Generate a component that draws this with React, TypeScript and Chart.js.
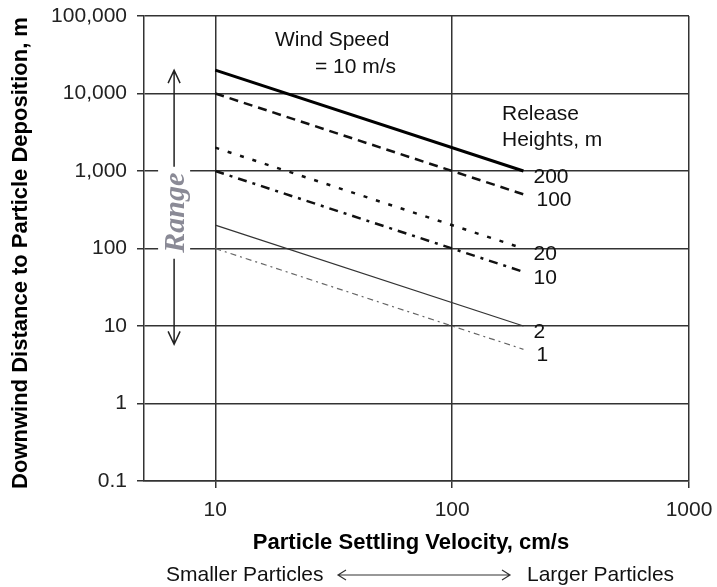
import React, { useEffect, useRef } from 'react';
import { Chart, registerables } from 'chart.js';

Chart.register(...registerables);

// ---- data ----
const releaseHeights = ['200', '100', '20', '10', '2', '1'];
const settlingVelocity = [10, 200]; // cm/s
const dist200 = [20000, 1000];
const dist100 = [10000, 500];
const dist20 = [2000, 100];
const dist10 = [1000, 50];
const dist2 = [200, 10];
const dist1 = [100, 5];
const xTickValues = [10, 100, 1000];
const yTickValues = [0.1, 1, 10, 100, 1000, 10000, 100000];
const rangeSpan = [20000, 5.8]; // range arrow top / bottom (m)

const seriesValues = [dist200, dist100, dist20, dist10, dist2, dist1];

const FONT = '"Liberation Sans", Arial, sans-serif';

const seriesStyles = [
  { color: '#000', width: 3, dash: [] as number[], nudge: 0 },
  { color: '#111', width: 2.5, dash: [9, 6], nudge: 3 },
  { color: '#111', width: 2.5, dash: [4, 9], nudge: 0 },
  { color: '#111', width: 2.5, dash: [9, 6, 3, 6], nudge: 0 },
  { color: '#333', width: 1.2, dash: [] as number[], nudge: 0 },
  { color: '#666', width: 1.2, dash: [6, 4, 2, 4], nudge: 3 },
];

const annotationPlugin = {
  id: 'annotations',
  afterDraw(chart: any) {
    const { ctx, scales } = chart;
    const xs = scales.x;
    const ys = scales.y;
    ctx.save();

    // Range arrow
    const ax = xs.getPixelForValue(6.7);
    const yTop = ys.getPixelForValue(rangeSpan[0]);
    const yBot = ys.getPixelForValue(rangeSpan[1]);
    const yMid = ys.getPixelForValue(290);
    ctx.fillStyle = '#fff';
    ctx.fillRect(ax - 16, yMid - 46, 32, 92);
    ctx.strokeStyle = '#222';
    ctx.lineWidth = 1.5;
    ctx.beginPath();
    ctx.moveTo(ax, yTop);
    ctx.lineTo(ax, yMid - 46);
    ctx.moveTo(ax, yMid + 46);
    ctx.lineTo(ax, yBot);
    ctx.moveTo(ax - 6, yTop + 13);
    ctx.lineTo(ax, yTop);
    ctx.lineTo(ax + 6, yTop + 13);
    ctx.moveTo(ax - 6, yBot - 13);
    ctx.lineTo(ax, yBot);
    ctx.lineTo(ax + 6, yBot - 13);
    ctx.stroke();
    ctx.save();
    ctx.translate(ax, yMid);
    ctx.rotate(-Math.PI / 2);
    ctx.fillStyle = '#8a8a96';
    ctx.font = 'italic bold 30px "Liberation Serif", serif';
    ctx.textAlign = 'center';
    ctx.textBaseline = 'middle';
    ctx.fillText('Range', 0, 2);
    ctx.restore();

    // Series labels at the end of each line
    ctx.fillStyle = '#111';
    ctx.font = `21px ${FONT}`;
    ctx.textAlign = 'left';
    ctx.textBaseline = 'middle';
    chart.data.datasets.forEach((ds: any, i: number) => {
      const last = ds.data[ds.data.length - 1];
      const px = xs.getPixelForValue(last.x);
      const py = ys.getPixelForValue(last.y);
      ctx.fillText(releaseHeights[i], px + 10 + seriesStyles[i].nudge, py + 6);
    });

    // Wind speed & release heights notes
    ctx.fillStyle = '#111';
    ctx.fillText('Wind Speed', 275, 40);
    ctx.fillText('= 10 m/s', 315, 67);
    ctx.fillText('Release', 502, 114);
    ctx.fillText('Heights, m', 502, 140);

    // Axis titles
    ctx.fillStyle = '#000';
    ctx.font = `bold 22px ${FONT}`;
    ctx.textAlign = 'center';
    ctx.fillText('Particle Settling Velocity, cm/s', 411, 543);
    ctx.save();
    ctx.translate(21, 253);
    ctx.rotate(-Math.PI / 2);
    ctx.fillText('Downwind Distance to Particle Deposition, m', 0, 0);
    ctx.restore();

    // Sub caption with double arrow
    ctx.font = `21px ${FONT}`;
    ctx.fillStyle = '#111';
    ctx.textAlign = 'left';
    ctx.fillText('Smaller Particles', 166, 575);
    ctx.fillText('Larger Particles', 527, 575);
    ctx.strokeStyle = '#333';
    ctx.lineWidth = 1.2;
    ctx.beginPath();
    ctx.moveTo(338, 575);
    ctx.lineTo(510, 575);
    ctx.moveTo(346, 570);
    ctx.lineTo(338, 575);
    ctx.lineTo(346, 580);
    ctx.moveTo(502, 570);
    ctx.lineTo(510, 575);
    ctx.lineTo(502, 580);
    ctx.stroke();

    ctx.restore();
  },
};

export default function App() {
  const canvasRef = useRef<HTMLCanvasElement | null>(null);

  useEffect(() => {
    const canvas = canvasRef.current;
    if (!canvas) return;
    const datasets = seriesValues.map((vals, i) => ({
      label: releaseHeights[i],
      data: settlingVelocity.map((v, j) => ({ x: v, y: vals[j] })),
      borderColor: seriesStyles[i].color,
      borderWidth: seriesStyles[i].width,
      borderDash: seriesStyles[i].dash,
      pointRadius: 0,
      fill: false,
      tension: 0,
    }));

    const chart = new Chart(canvas, {
      type: 'line',
      data: { datasets },
      options: {
        responsive: false,
        animation: false,
        devicePixelRatio: 1,
        layout: { padding: { top: 16, right: 28, left: 0, bottom: 0 } },
        plugins: {
          legend: { display: false },
          tooltip: { enabled: false },
        },
        scales: {
          x: {
            type: 'logarithmic',
            min: 5,
            max: 1000,
            afterBuildTicks: (s: any) => {
              s.ticks = xTickValues.map((v) => ({ value: v }));
            },
            afterFit: (s: any) => {
              s.height = 106;
              s.paddingLeft = 0;
              s.paddingRight = 0;
            },
            ticks: {
              autoSkip: false,
              maxRotation: 0,
              padding: 10,
              color: '#222',
              font: { family: FONT, size: 21 },
              callback: (v: any) => String(v),
            },
            grid: { color: '#333', lineWidth: 1.5, tickLength: 7 },
            border: { display: true, color: '#333', width: 1.5 },
          },
          y: {
            type: 'logarithmic',
            min: 0.1,
            max: 100000,
            afterBuildTicks: (s: any) => {
              s.ticks = yTickValues.map((v) => ({ value: v }));
            },
            afterFit: (s: any) => {
              s.width = 144;
              s.paddingTop = 0;
              s.paddingBottom = 0;
            },
            ticks: {
              autoSkip: false,
              padding: 10,
              color: '#222',
              font: { family: FONT, size: 21 },
              callback: (v: any) =>
                Number(v) >= 1000 ? Number(v).toLocaleString('en-US') : String(v),
            },
            grid: { color: '#333', lineWidth: 1.5, tickLength: 7 },
            border: { display: true, color: '#333', width: 1.5 },
          },
        },
      },
      plugins: [annotationPlugin],
    } as any);

    return () => chart.destroy();
  }, []);

  return (
    <div style={{ position: 'fixed', left: 0, top: 0, width: 717, height: 587, background: '#fff' }}>
      <canvas ref={canvasRef} width={717} height={587} style={{ display: 'block' }} />
    </div>
  );
}
